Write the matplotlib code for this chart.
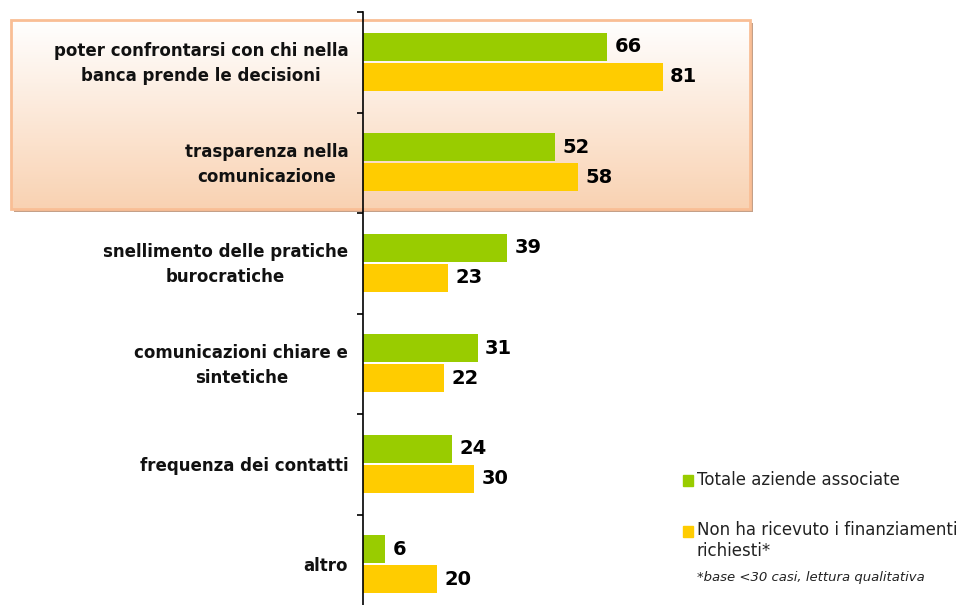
import numpy as np
import matplotlib.pyplot as plt
from matplotlib.patches import Rectangle

# dati
categorie = ["poter confrontarsi con chi nella\nbanca prende le decisioni",
             "trasparenza nella\ncomunicazione",
             "snellimento delle pratiche\nburocratiche",
             "comunicazioni chiare e\nsintetiche",
             "frequenza dei contatti",
             "altro"]
totale = [66, 52, 39, 31, 24, 6]
non_ricevuto = [81, 58, 23, 22, 30, 20]

serie_nomi = ["Totale aziende associate",
              "Non ha ricevuto i finanziamenti\nrichiesti*"]
nota = "*base <30 casi, lettura qualitativa"

verde = "#99CC00"
giallo = "#FFCC00"

W, H = 976, 605
fig = plt.figure(figsize=(W / 100, H / 100), dpi=100)

# sfondo: riquadro evidenziato con sfumatura
bg = fig.add_axes([0, 0, 1, 1])
bg.set_xlim(0, W)
bg.set_ylim(H, 0)
bg.axis("off")
x0, y0, x1, y1 = 11, 20, 750, 209
bg.add_patch(Rectangle((x0 + 3, y0 + 3), x1 - x0, y1 - y0,
                       facecolor="#C4A088", edgecolor="none", zorder=1))
grad = np.linspace(0, 1, 256)[:, None]
c_top = np.array([1.0, 1.0, 1.0])
c_bot = np.array([0xF9, 0xD2, 0xB2]) / 255
img = c_top + (c_bot - c_top) * grad[..., None]
img = np.repeat(img, 2, axis=1)
bg.imshow(img, extent=(x0, x1, y1, y0), aspect="auto", zorder=2)
bg.add_patch(Rectangle((x0, y0), x1 - x0, y1 - y0, facecolor="none",
                       edgecolor="#F9BE95", lw=2, zorder=3))

# grafico principale
ax_left = 363
ax_top = 12
px_unit = 3.7
ax = fig.add_axes([ax_left / W, 0, (W - ax_left) / W, (H - ax_top) / H])
ax.patch.set_alpha(0)
ax.set_xlim(0, (W - ax_left) / px_unit)
ax.set_ylim(-0.5 + (H - ax_top) / 100.5, -0.5)

y = np.arange(len(categorie))
h = 0.28
ax.barh(y - 0.155, totale, height=h, color=verde)
ax.barh(y + 0.145, non_ricevuto, height=h, color=giallo)

for i in range(len(categorie)):
    ax.text(totale[i] + 2, y[i] - 0.155, str(totale[i]), va="center",
            ha="left", fontsize=14, fontweight="bold")
    ax.text(non_ricevuto[i] + 2, y[i] + 0.145, str(non_ricevuto[i]),
            va="center", ha="left", fontsize=14, fontweight="bold")
    ax.text(-4, y[i] + 0.015, categorie[i], ha="right", va="center",
            multialignment="center", fontsize=12, fontweight="bold",
            linespacing=1.5, color="#111111")

for s in ["top", "right", "bottom"]:
    ax.spines[s].set_visible(False)
ax.spines["left"].set_linewidth(1.2)
ax.set_xticks([])
ax.set_yticks(np.arange(-0.5, 5, 1))
ax.set_yticklabels([])
ax.tick_params(axis="y", direction="out", length=4.5, width=1.2)

# legenda manuale
bg.add_patch(Rectangle((683, 475), 10, 11, color=verde, zorder=5))
bg.text(697, 480, serie_nomi[0], va="center", ha="left", fontsize=12,
        color="#222222")
bg.add_patch(Rectangle((683, 526), 10, 11, color=giallo, zorder=5))
bg.text(697, 521, serie_nomi[1], va="top", ha="left", fontsize=12,
        color="#222222", linespacing=1.25)
bg.text(697, 578, nota, va="center", ha="left", fontsize=9.5,
        style="italic", color="#222222")

fig.savefig("out.png", dpi=100)
